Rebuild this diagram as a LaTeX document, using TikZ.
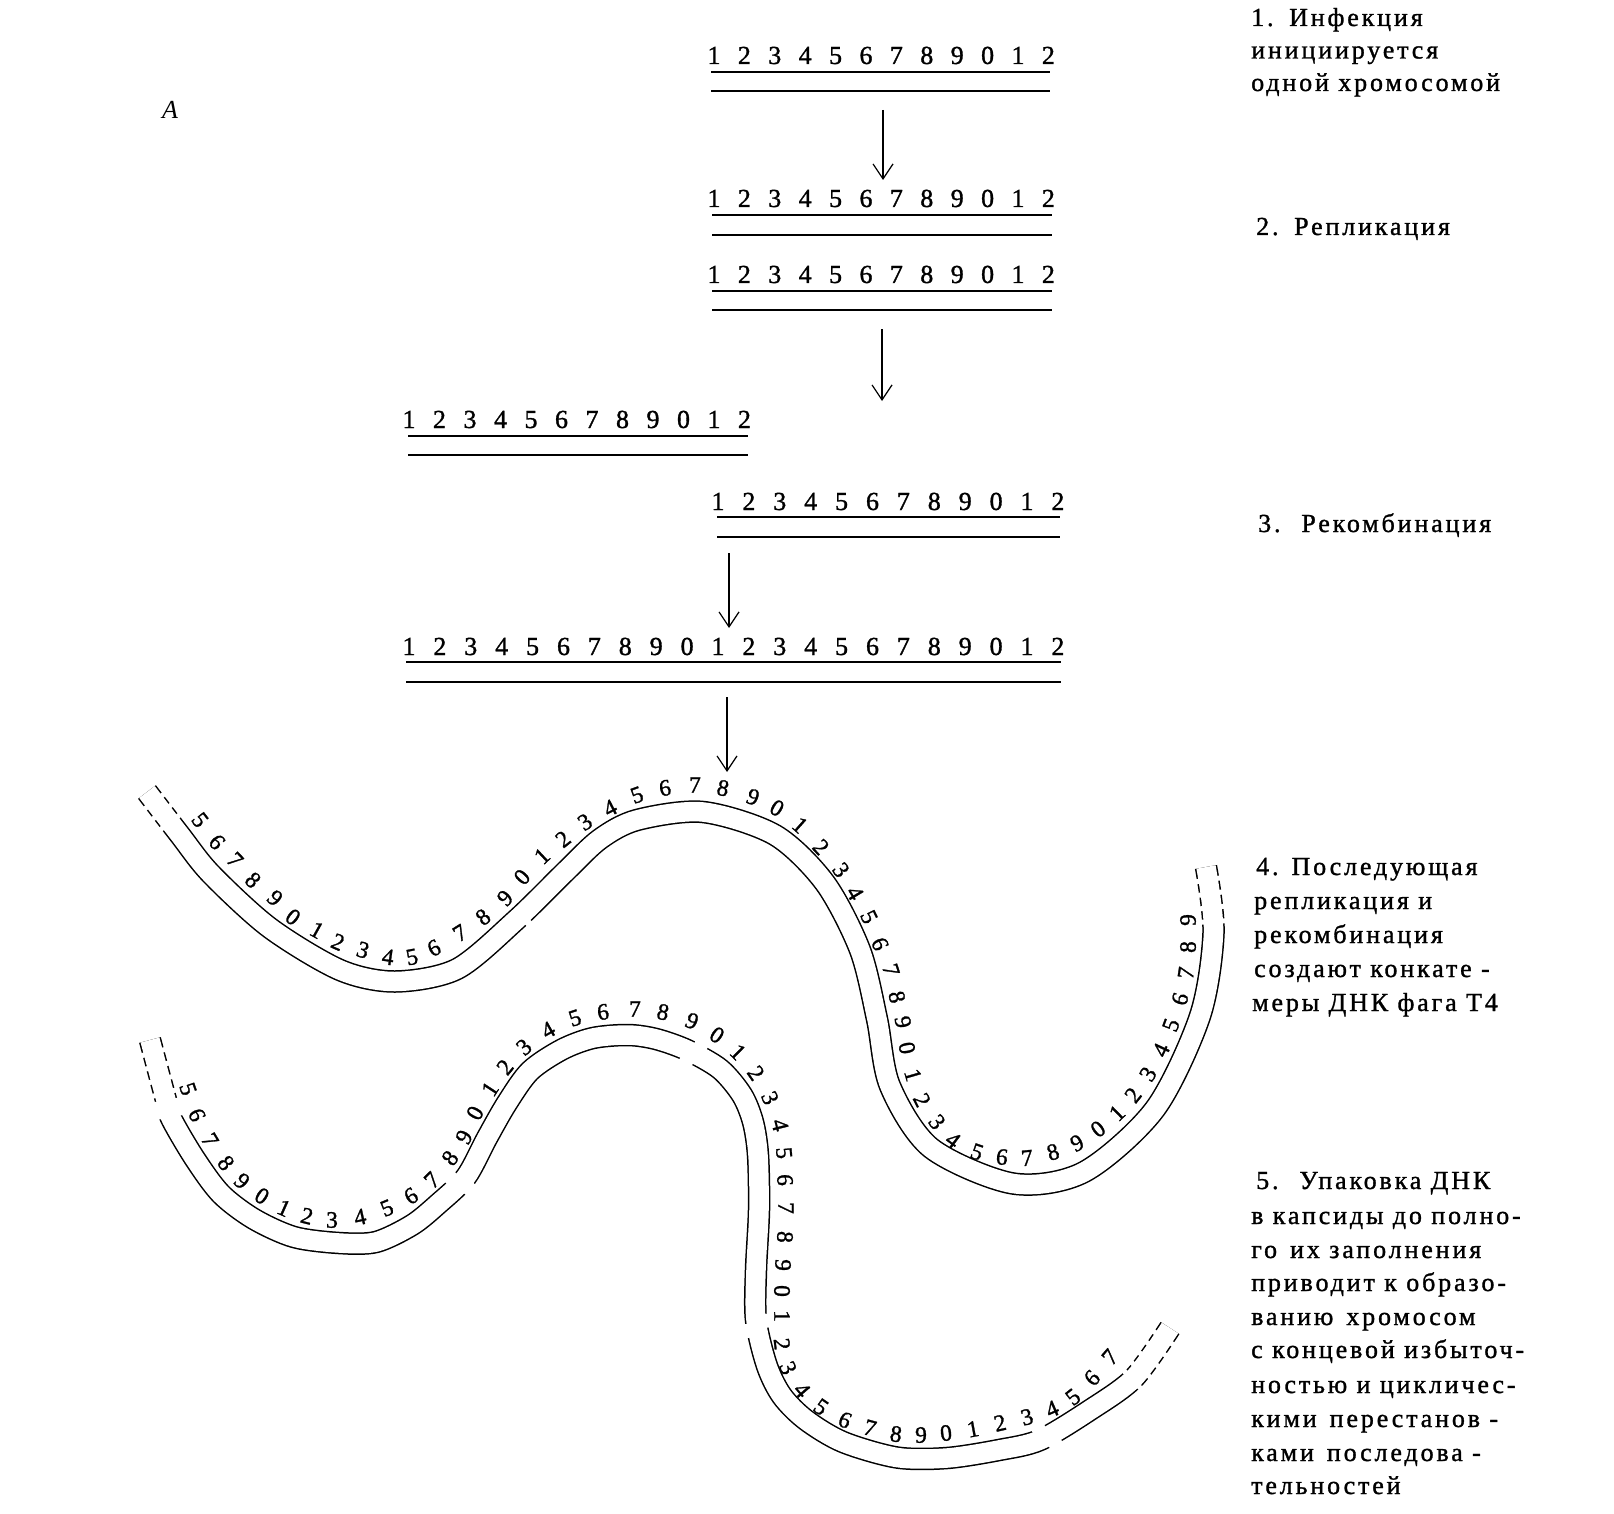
\documentclass[tikz,border=0pt]{standalone}
\usepackage{fontspec}
\setmainfont{Liberation Serif}
\newfontfamily\lblfamily[LetterSpace=11,FakeBold=1.2]{Liberation Serif}
\newfontfamily\digfamily[FakeBold=1.2]{Liberation Serif}
\usetikzlibrary{decorations.markings,arrows.meta,calc}
\newcommand\cutB{\fill[white] (-2.5,-14) rectangle (2.5,14);}
\newcommand\cutO{\fill[white] (-7,-14) rectangle (7,-6);}
\newcommand\cutI{\fill[white] (-7,6) rectangle (7,14);}
\begin{document}
\begin{tikzpicture}[x=1pt,y=1pt,
  dig/.style={font=\digfamily\fontsize{26}{26}\selectfont, inner sep=0pt, anchor=base},
  cdig/.style={font=\digfamily\fontsize{23.5}{23.5}\selectfont, inner sep=0pt},
  rowline/.style={line width=1.5pt},
  arr/.style={line width=1.2pt, -{Straight Barb[length=15pt,width=20pt,line width=1.2pt]}},
  lbl/.style={font=\lblfamily\fontsize{26}{26}\selectfont, anchor=base west, inner sep=0pt},
  dna/.style={double=white, double distance=19.5pt, line width=1.5pt},
]
\useasboundingbox (0,0) rectangle (1614,-1514);

% ---------- straight rows ----------
\foreach \k in {0,...,11} {
  \pgfmathtruncatemacro\dd{mod(\k+1,10)}
  \node[dig] (ra\k) at ({714+30.4*\k},-64) {\dd};
  \node[dig] (rb\k) at ({714+30.4*\k},-207) {\dd};
  \node[dig] (rc\k) at ({714+30.4*\k},-283) {\dd};
  \node[dig] (rd\k) at ({409+30.5*\k},-428) {\dd};
  \node[dig] (re\k) at ({718+30.9*\k},-510) {\dd};
}
\foreach \k in {0,...,21} {
  \pgfmathtruncatemacro\dd{mod(\k+1,10)}
  \node[dig] (rf\k) at ({409+30.9*\k},-655) {\dd};
}
\draw[rowline] (711,-72) -- (1050,-72);
\draw[rowline] (711,-91) -- (1050,-91);
\draw[rowline] (712,-215) -- (1052,-215);
\draw[rowline] (712,-235) -- (1052,-235);
\draw[rowline] (712,-291) -- (1052,-291);
\draw[rowline] (712,-310) -- (1052,-310);
\draw[rowline] (408,-436) -- (748,-436);
\draw[rowline] (408,-455) -- (748,-455);
\draw[rowline] (717,-517) -- (1060,-517);
\draw[rowline] (717,-537) -- (1060,-537);
\draw[rowline] (406,-662) -- (1061,-662);
\draw[rowline] (406,-682) -- (1061,-682);

% ---------- arrows ----------
\coordinate (a1s) at (883,-110); \coordinate (a1e) at (883,-180);
\coordinate (a2s) at (882,-329); \coordinate (a2e) at (882,-401);
\coordinate (a3s) at (729,-553); \coordinate (a3e) at (729,-628);
\coordinate (a4s) at (727,-697); \coordinate (a4e) at (727,-772);
\draw[arr] (a1s) -- (a1e);
\draw[arr] (a2s) -- (a2e);
\draw[arr] (a3s) -- (a3e);
\draw[arr] (a4s) -- (a4e);

\node[font=\itshape\fontsize{26}{26}\selectfont, anchor=base, inner sep=0pt] (labA) at (170,-119) {A};

% ---------- curve 1 (step 4) ----------
\draw[dna, postaction={decorate, decoration={markings,
   mark=at position 12pt with {\cutB},
   mark=at position 25pt with {\cutB},
   mark=at position 38pt with {\cutB},
   mark=at position 470pt with {\fill[white] (-3.5,-14) rectangle (3.5,-6);},
   mark=at position -55pt with {\cutB},
   mark=at position -41pt with {\cutB},
   mark=at position -27pt with {\cutB},
   mark=at position -13pt with {\cutB}}}]
  plot[smooth] coordinates {(147,-792) (180,-835) (211,-874) (270,-928) (340,-970) (395,-981.5) (457,-969) (516,-920) (566,-871) (600,-839) (637,-820) (703,-812) (775,-835) (825,-883) (860,-950) (877,-1019) (890,-1086) (931,-1148) (1013,-1183.5) (1084,-1172) (1155,-1109) (1200,-1016) (1213.5,-933) (1206,-867)};

\foreach \x/\y [count=\i from 0] in {200/820, 217/842, 235/860, 253/880, 275/898, 293/917, 317/930, 338/942, 363/950, 388/957, 412/957, 434/948, 460/933, 483/917, 505/898, 522/877, 542/856, 563/839, 585/822, 610/808, 637/795, 665/788, 695/785, 723/788, 753/797, 777/808, 800/825, 821/847, 841/870, 855/893, 869/917, 880/944, 891/970, 897/997, 903/1022, 907/1048, 913/1075, 922/1100, 937/1122, 953/1140, 977/1152, 1002/1157, 1027/1158, 1053/1152, 1077/1143, 1098/1129, 1117/1113, 1133/1095, 1148/1074, 1161/1050, 1171/1025, 1180/999, 1186/973, 1188/947, 1188/920}
  {\coordinate (pa\i) at (\x,-\y);}
\foreach \i in {0,...,54} {
  \pgfmathtruncatemacro\ia{max(\i-1,0)}
  \pgfmathtruncatemacro\ib{min(\i+1,54)}
  \pgfmathtruncatemacro\dd{mod(\i+5,10)}
  \path let \p1=(pa\ia), \p2=(pa\ib), \n1={atan2(\y2-\y1,\x2-\x1)} in
    node[cdig, rotate=\n1] (ca\i) at (pa\i) {\dd};
}

% ---------- curve 2 (step 5) ----------
\draw[dna, postaction={decorate, decoration={markings,
   mark=at position 13pt with {\cutB},
   mark=at position 27pt with {\cutB},
   mark=at position 41pt with {\cutB},
   mark=at position 55pt with {\cutB},
   mark=at position 71pt with {\fill[white] (-9,-14) rectangle (9,14);},
   mark=at position 441pt with {\cutI},
   mark=at position 446pt with {\cutO},
   mark=at position 749pt with {\cutO},
   mark=at position 755pt with {\cutI},
   mark=at position 1047pt with {\cutI},
   mark=at position 1054pt with {\cutO},
   mark=at position 1408pt with {\cutI},
   mark=at position 1416pt with {\cutO},
   mark=at position -64pt with {\cutB},
   mark=at position -51pt with {\cutB},
   mark=at position -38pt with {\cutB},
   mark=at position -25pt with {\cutB},
   mark=at position -12pt with {\cutB}}}]
  plot[smooth] coordinates {(150,-1040) (166,-1100) (171.5,-1119) (195,-1159) (221,-1194) (254,-1219) (294,-1237) (339,-1243) (376,-1242) (412,-1225) (438,-1204) (466,-1177) (487,-1138) (507,-1103) (530,-1071) (562,-1049.5) (593,-1038) (628,-1035) (656,-1039) (687,-1050) (720,-1069) (742,-1095) (753,-1122) (758,-1155) (759,-1210) (756,-1270) (756,-1320) (767,-1366) (782,-1396) (806,-1420) (843,-1442) (897,-1457.5) (947,-1458) (999,-1450) (1040,-1440) (1090,-1410) (1134,-1378) (1170,-1328)};

\foreach \x/\y [count=\i from 0] in {188/1089, 197/1115, 210/1140, 226/1163, 242/1181, 262/1196, 284/1208, 307/1216, 332/1220, 360/1217, 387/1208, 411/1196, 432/1180, 450/1158, 464/1137, 475/1113, 490/1089, 505/1067, 524/1047, 548/1030, 575/1018, 603/1012, 635/1009, 663/1012, 692/1021, 717/1035, 738/1052, 756/1073, 770/1098, 780/1125, 784/1153, 785/1180, 786/1208, 785/1237, 783/1265, 782/1291, 782/1316, 782/1344, 788/1368, 802/1390, 821/1407, 845/1420, 870/1428, 896/1434, 921/1435, 946/1433, 973/1429, 1000/1423, 1027/1417, 1052/1409, 1073/1397, 1092/1378, 1110/1357}
  {\coordinate (pb\i) at (\x,-\y);}
\foreach \i in {0,...,52} {
  \pgfmathtruncatemacro\ia{max(\i-1,0)}
  \pgfmathtruncatemacro\ib{min(\i+1,52)}
  \pgfmathtruncatemacro\dd{mod(\i+5,10)}
  \path let \p1=(pb\ia), \p2=(pb\ib), \n1={atan2(\y2-\y1,\x2-\x1)} in
    node[cdig, rotate=\n1] (cb\i) at (pb\i) {\dd};
}

% ---------- labels ----------
\node[lbl] (t1a) at (1251,-26) {1.\hspace{0.6em}Инфекция};
\node[lbl] (t1b) at (1251,-58.5) {инициируется};
\node[lbl] (t1c) at (1251,-91) {одной хромосомой};
\node[lbl] (t2) at (1256,-235) {2.\hspace{0.6em}Репликация};
\node[lbl] (t3) at (1258,-532) {3.\hspace{0.8em}Рекомбинация};
\node[lbl] (t4a) at (1256,-875) {4.\hspace{0.5em}Последующая};
\node[lbl] (t4b) at (1254,-909) {репликация и};
\node[lbl] (t4c) at (1254,-943) {рекомбинация};
\node[lbl] (t4d) at (1254,-977) {создают конкате -};
\node[lbl] (t4e) at (1252,-1011) {меры ДНК фага T4};
\node[lbl] (t5a) at (1256,-1189) {5.\hspace{0.8em}Упаковка ДНК};
\node[lbl] (t5b) at (1251,-1224) {в капсиды до полно-};
\node[lbl] (t5c) at (1251,-1258) {го\hspace{0.5em}их заполнения};
\node[lbl] (t5d) at (1251,-1291) {приводит к образо-};
\node[lbl] (t5e) at (1251,-1325) {ванию\hspace{0.5em}хромосом};
\node[lbl] (t5f) at (1251,-1358) {с концевой избыточ-};
\node[lbl] (t5g) at (1251,-1393) {ностью и цикличес-};
\node[lbl] (t5h) at (1251,-1427) {кими\hspace{0.5em}перестанов -};
\node[lbl] (t5i) at (1251,-1461) {ками\hspace{0.5em}последова -};
\node[lbl] (t5j) at (1251,-1494) {тельностей};
\end{tikzpicture}
\end{document}
